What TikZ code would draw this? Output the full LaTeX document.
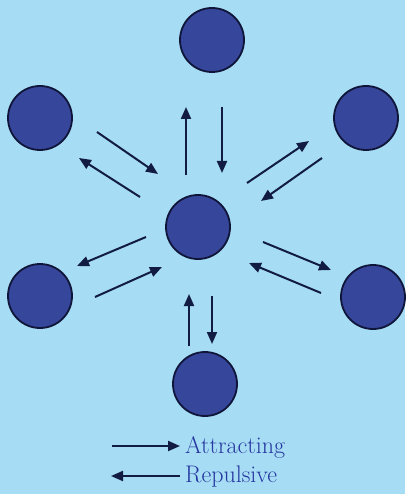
\documentclass[tikz,border=0pt]{standalone}
\usetikzlibrary{arrows.meta}
\definecolor{paper}{HTML}{A6DDF4}
\definecolor{ball}{HTML}{36469A}
\definecolor{ballrim}{HTML}{10153A}
\definecolor{ink}{HTML}{121B42}
\definecolor{labelblue}{HTML}{2536A0}

\begin{document}
\begin{tikzpicture}[x=1pt, y=-1pt,
  ball/.style={circle, draw=ballrim, line width=1.8pt, fill=ball, minimum size=64pt, inner sep=0pt},
  force/.style={-{Triangle[length=12pt,width=10pt]}, line width=2pt, color=ink},
  legend/.style={anchor=west, text=labelblue, font=\fontsize{24}{28}\selectfont, inner sep=0pt}]
\fill[paper] (0,0) rectangle (405,494);
\useasboundingbox (0,0) rectangle (405,494);

% the particles
\node[ball] (mid) at (198,227) {};
\node[ball] (top) at (212,40) {};
\node[ball] (ul) at (40,118) {};
\node[ball] (ur) at (366,118) {};
\node[ball] (ll) at (40,296) {};
\node[ball] (lr) at (373,297) {};
\node[ball] (bot) at (205,384) {};

% arrow ends
\coordinate (t1) at (186,175); \coordinate (h1) at (186,107);
\coordinate (t2) at (222,107); \coordinate (h2) at (222,173);
\coordinate (t3) at (97,132);  \coordinate (h3) at (158,174);
\coordinate (t4) at (140,197); \coordinate (h4) at (79,158);
\coordinate (t5) at (247,183); \coordinate (h5) at (309,141);
\coordinate (t6) at (322,158); \coordinate (h6) at (261,201);
\coordinate (t7) at (146,237); \coordinate (h7) at (77,266);
\coordinate (t8) at (95,297);  \coordinate (h8) at (162,267);
\coordinate (t9) at (263,242); \coordinate (h9) at (331,270);
\coordinate (t10) at (321,293); \coordinate (h10) at (249,263);
\coordinate (t11) at (189,346); \coordinate (h11) at (189,294);
\coordinate (t12) at (212,296); \coordinate (h12) at (212,344);

\foreach \i in {1,...,12}
  \draw[force] (t\i) -- (h\i);

% legend
\coordinate (la) at (112,446); \coordinate (lb) at (180,446);
\coordinate (lc) at (180,476); \coordinate (ld) at (111,476);
\draw[force] (la) -- (lb);
\draw[force] (lc) -- (ld);
\node[legend] (att) at (185,447) {Attracting};
\node[legend] (rep) at (185,477) {Repulsive};
\end{tikzpicture}
\end{document}
